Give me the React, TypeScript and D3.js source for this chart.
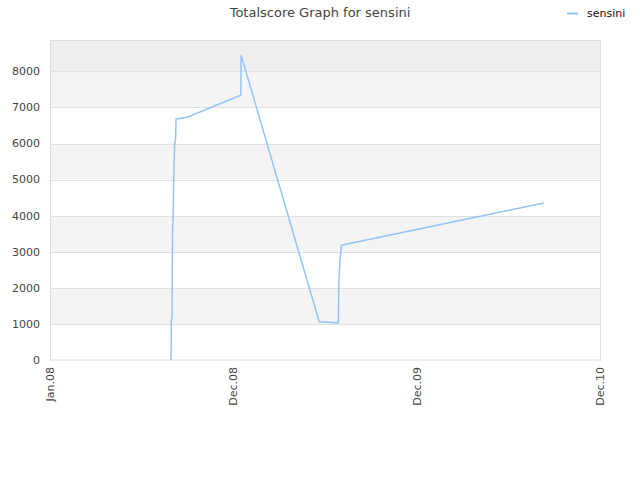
import * as d3 from 'd3'

const dates = [
  '2008-08-29T00:00', '2008-08-29T12:00', '2008-08-31', '2008-09-01', '2008-09-02',
  '2008-09-03', '2008-09-04', '2008-09-05', '2008-09-07', '2008-09-08',
  '2008-09-30', '2009-01-15', '2009-01-15T12:00', '2009-06-20', '2009-07-28',
  '2009-07-29', '2009-07-31', '2009-08-03', '2009-08-10', '2010-09-10',
]
const scores = [
  0, 1110, 1150, 3740, 3800,
  4790, 5320, 5960, 6150, 6680,
  6730, 7340, 8450, 1060, 1030,
  2170, 2690, 3170, 3200, 4350,
]
const yTicks = [0, 1000, 2000, 3000, 4000, 5000, 6000, 7000, 8000]
const xTickDates = ['2008-01-01', '2008-12-31', '2009-12-31', '2010-12-31']
const xTickLabels = ['Jan.08', 'Dec.08', 'Dec.09', 'Dec.10']
const seriesName = 'sensini'
const title = 'Totalscore Graph for sensini'

const width = 640
const height = 480
const margin = { top: 40, right: 40, bottom: 120, left: 50 }
const lineColor = '#92c5f7'
const font = '"DejaVu Sans", sans-serif'

export default function App() {
  const innerW = width - margin.left - margin.right
  const innerH = height - margin.top - margin.bottom

  const x = d3
    .scaleTime()
    .domain([new Date(xTickDates[0] + 'T00:00'), new Date(xTickDates[3] + 'T00:00')])
    .range([0, innerW])
  const y = d3.scaleLinear().domain([0, 8870]).range([innerH, 0])

  const points = dates.map((d, i) => ({ t: new Date(d.length > 10 ? d : d + 'T00:00'), v: scores[i] }))
  const line = d3
    .line<{ t: Date; v: number }>()
    .x((d) => x(d.t))
    .y((d) => y(d.v))

  // alternating bands between ticks, top partial band darker
  const bandEdges = [...yTicks, y.domain()[1]]
  const bands = bandEdges.slice(0, -1).map((lo, i) => ({ lo, hi: bandEdges[i + 1], i }))
  const bandFill = (i: number) => {
    if (i === bands.length - 1) return '#eeeeee'
    return i % 2 === 1 ? '#f4f4f4' : '#ffffff'
  }

  return (
    <svg width={width} height={height} style={{ position: 'absolute', left: 0, top: 0 }}>
      <rect width={width} height={height} fill="#fff" />
      <text x={width / 2} y={17} textAnchor="middle" fontFamily={font} fontSize={13} fill="#444">
        {title}
      </text>

      <line x1={567} x2={578} y1={13.5} y2={13.5} stroke={lineColor} strokeWidth={2} />
      <text x={587} y={17} fontFamily={font} fontSize={11} fill="#111">
        {seriesName}
      </text>

      <g transform={`translate(${margin.left},${margin.top})`}>
        {bands.map((b) => (
          <rect
            key={b.i}
            x={0}
            y={y(b.hi)}
            width={innerW}
            height={y(b.lo) - y(b.hi)}
            fill={bandFill(b.i)}
          />
        ))}
        {yTicks.slice(1).map((t) => (
          <line key={t} x1={0} x2={innerW} y1={Math.round(y(t)) + 0.5} y2={Math.round(y(t)) + 0.5} stroke="#e0e0e0" />
        ))}
        <rect x={0.5} y={0.5} width={innerW} height={innerH - 0.5} fill="none" stroke="#dcdcdc" />

        <path d={line(points) ?? ''} fill="none" stroke={lineColor} strokeWidth={1.5} />

        {yTicks.map((t) => (
          <text
            key={t}
            x={-10}
            y={y(t)}
            dy="0.35em"
            textAnchor="end"
            fontFamily={font}
            fontSize={11}
            fill="#444"
          >
            {t}
          </text>
        ))}
        {xTickDates.map((d, i) => (
          <text
            key={d}
            transform={`translate(${x(new Date(d + 'T00:00'))},${innerH + 7}) rotate(-90)`}
            dy="0.35em"
            textAnchor="end"
            fontFamily={font}
            fontSize={11}
            fill="#444"
          >
            {xTickLabels[i]}
          </text>
        ))}
      </g>
    </svg>
  )
}
